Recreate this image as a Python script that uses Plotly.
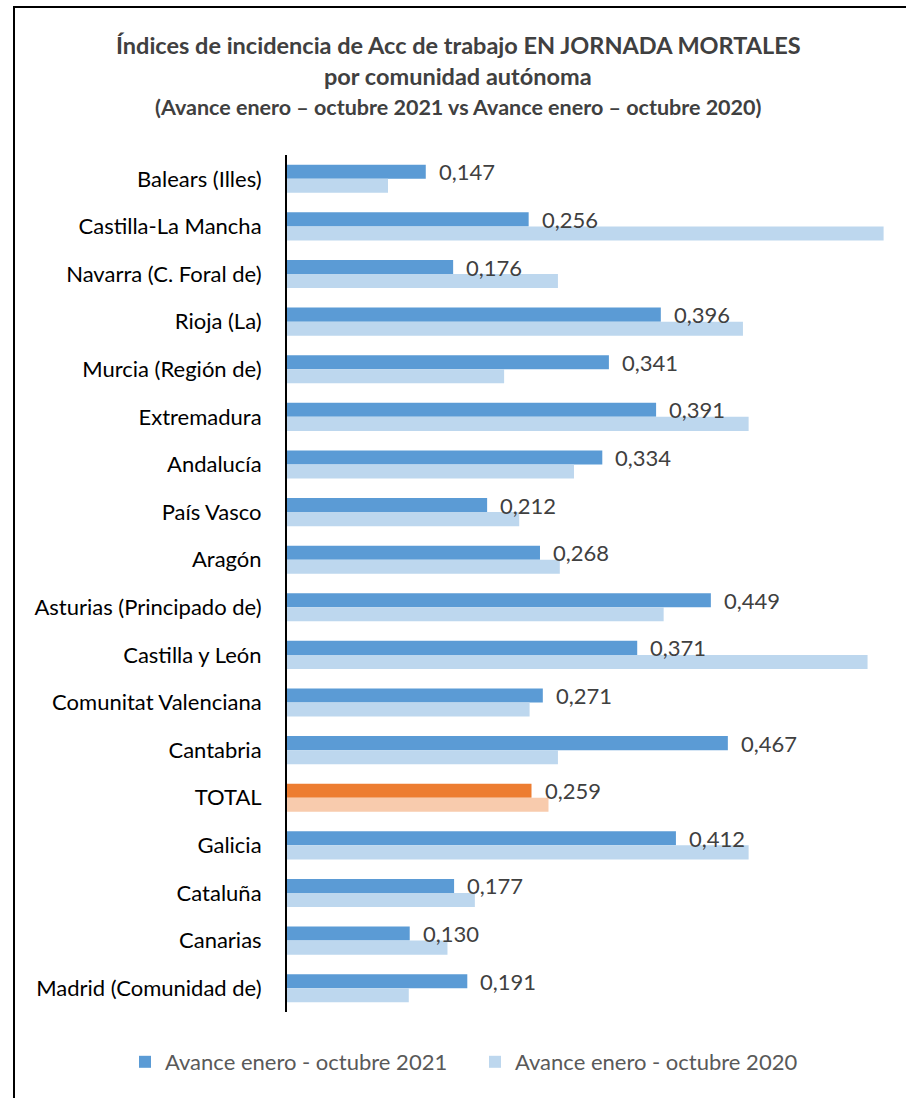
import plotly.graph_objects as go

categories = ["Balears (Illes)", "Castilla-La Mancha", "Navarra (C. Foral de)", "Rioja (La)",
              "Murcia (Región de)", "Extremadura", "Andalucía", "País Vasco", "Aragón",
              "Asturias (Principado de)", "Castilla y León", "Comunitat Valenciana", "Cantabria",
              "TOTAL", "Galicia", "Cataluña", "Canarias", "Madrid (Comunidad de)"]
v2021 = [0.147, 0.256, 0.176, 0.396, 0.341, 0.391, 0.334, 0.212, 0.268,
         0.449, 0.371, 0.271, 0.467, 0.259, 0.412, 0.177, 0.130, 0.191]
v2020 = [0.107, 0.632, 0.287, 0.483, 0.230, 0.489, 0.304, 0.246, 0.289,
         0.399, 0.615, 0.257, 0.287, 0.277, 0.489, 0.199, 0.170, 0.129]
series_names = ["Avance enero - octubre 2021", "Avance enero - octubre 2020"]

W, H = 906, 1098
AX_L, AX_R, AX_T, AX_B = 287, 891, 155, 1012
L, R, T, B = AX_L, W - AX_R, AX_T, H - AX_B
pw, ph = W - L - R, H - T - B

def px(x):
    return (x - AX_L) / pw

def py(y):
    return (AX_B - y) / ph

c21 = ["#ED7D31" if c == "TOTAL" else "#5B9BD5" for c in categories]
c20 = ["#F8CBAD" if c == "TOTAL" else "#BDD7EE" for c in categories]

fig = go.Figure()
fig.add_trace(go.Bar(y=categories, x=v2021, orientation="h", name=series_names[0],
                     marker=dict(color=c21, line=dict(width=0))))
fig.add_trace(go.Bar(y=categories, x=v2020, orientation="h", name=series_names[1],
                     marker=dict(color=c20, line=dict(width=0))))

annotations = []
for c, v in zip(categories, v2021):
    annotations.append(dict(x=v, y=c, xref="x", yref="y", text=f"{v:.3f}".replace(".", ","),
                            showarrow=False, xanchor="left", yanchor="middle", xshift=11, yshift=7,
                            font=dict(family="Lato", size=22, color="#404040")))

title_lines = [("Índices de incidencia de Acc de trabajo EN JORNADA MORTALES", 45, 23.5),
               ("por comunidad autónoma", 76, 23.5),
               ("(Avance enero – octubre 2021 vs Avance enero – octubre 2020)", 107, 21.5)]
for txt, yy, sz in title_lines:
    annotations.append(dict(x=px(458), y=py(yy), xref="paper", yref="paper", text=f"<b>{txt}</b>",
                            showarrow=False, xanchor="center", yanchor="middle",
                            font=dict(family="Lato", size=sz, color="#404040")))

fig.update_layout(
    width=W, height=H,
    margin=dict(l=L, r=R, t=T, b=B, autoexpand=False),
    paper_bgcolor="white", plot_bgcolor="white",
    barmode="group", bargap=0.41, bargroupgap=0,
    showlegend=True,
    legend=dict(orientation="h", xref="paper", yref="paper",
                x=px(125), y=py(1062), xanchor="left", yanchor="middle",
                entrywidth=305, entrywidthmode="pixels",
                font=dict(family="Lato", size=22, color="#595959"),
                traceorder="normal"),
    annotations=annotations,
    shapes=[dict(type="rect", xref="paper", yref="paper", x0=px(14), x1=px(930), y0=py(1120), y1=py(7),
                 line=dict(color="#000000", width=2), fillcolor="rgba(0,0,0,0)", layer="below")],
    xaxis=dict(range=[0, pw / 944], showgrid=False, zeroline=False, showticklabels=False,
               showline=False, fixedrange=True),
    yaxis=dict(autorange="reversed", showgrid=False, zeroline=False, showline=True,
               linecolor="#000000", linewidth=2, ticks="", ticklabelstandoff=19,
               tickfont=dict(family="Lato", size=22, color="#000000")),
)

fig.write_html("out.html", config={"displayModeBar": False},
               post_script="document.body.style.margin='0';document.body.style.overflow='hidden';")
